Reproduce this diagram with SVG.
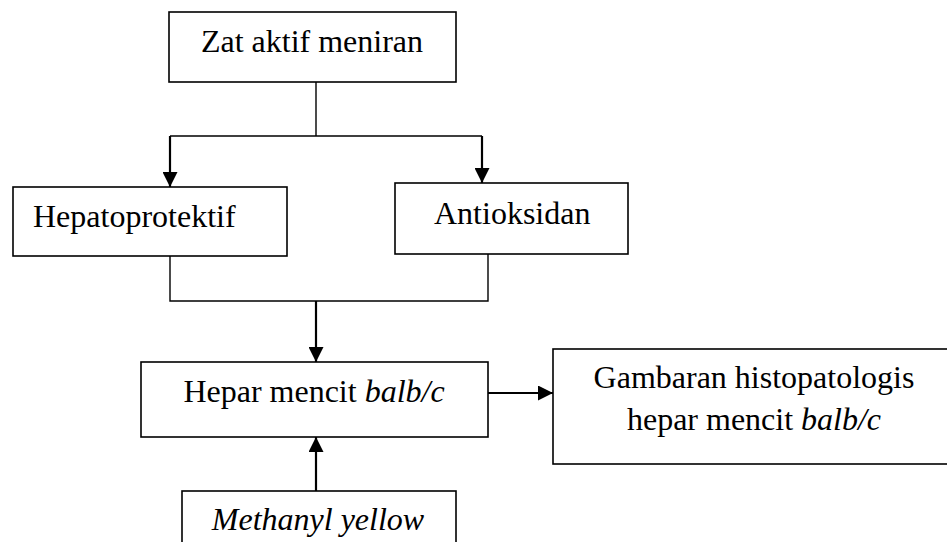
<svg xmlns="http://www.w3.org/2000/svg" width="947" height="542" viewBox="0 0 947 542">
<style>
.box{fill:#fff;stroke:#000;stroke-width:1.6}
.t{font-family:"Liberation Serif","Times New Roman",serif;font-size:32px;fill:#000}
.i{font-style:italic}
.ln{fill:none;stroke:#000;stroke-width:1.4}
.ar{fill:none;stroke:#000;stroke-width:2.2;marker-end:url(#ah)}
</style>
<defs>
<marker id="ah" markerUnits="userSpaceOnUse" markerWidth="15" markerHeight="15" viewBox="0 0 15 15" refX="15" refY="7.5" orient="auto">
<path d="M0,0 L15,7.5 L0,15 Z" fill="#000"/>
</marker>
</defs>
<rect width="947" height="542" fill="#fff"/>
<g id="connectors">
<path class="ln" d="M316,82 V136 M170,136 H482"/>
<path class="ar" d="M170,136 V187"/>
<path class="ar" d="M482,136 V183"/>
<path class="ln" d="M170,256 V301 H488 V254"/>
<path class="ar" d="M316,301 V362"/>
<path class="ar" d="M488,393 H553"/>
<path class="ar" d="M316,491 V437"/>
</g>
<g id="zat">
<rect class="box" x="169" y="12" width="287" height="70"/>
<text class="t" x="312" y="52" text-anchor="middle">Zat aktif meniran</text>
</g>
<g id="hepatoprotektif">
<rect class="box" x="13" y="187" width="274" height="69"/>
<text class="t" x="33" y="227">Hepatoprotektif</text>
</g>
<g id="antioksidan">
<rect class="box" x="395" y="183" width="233" height="71"/>
<text class="t" x="434" y="224">Antioksidan</text>
</g>
<g id="hepar">
<rect class="box" x="141" y="362" width="347" height="75"/>
<text class="t" x="314" y="402" text-anchor="middle">Hepar mencit <tspan class="i">balb/c</tspan></text>
</g>
<g id="gambaran">
<rect class="box" x="553" y="349" width="410" height="115"/>
<text class="t" x="754" y="388" text-anchor="middle">Gambaran histopatologis</text>
<text class="t" x="754" y="430" text-anchor="middle">hepar mencit <tspan class="i">balb/c</tspan></text>
</g>
<g id="methanyl">
<rect class="box" x="182" y="491" width="274" height="70"/>
<text class="t i" x="318" y="530" text-anchor="middle">Methanyl yellow</text>
</g>
</svg>
